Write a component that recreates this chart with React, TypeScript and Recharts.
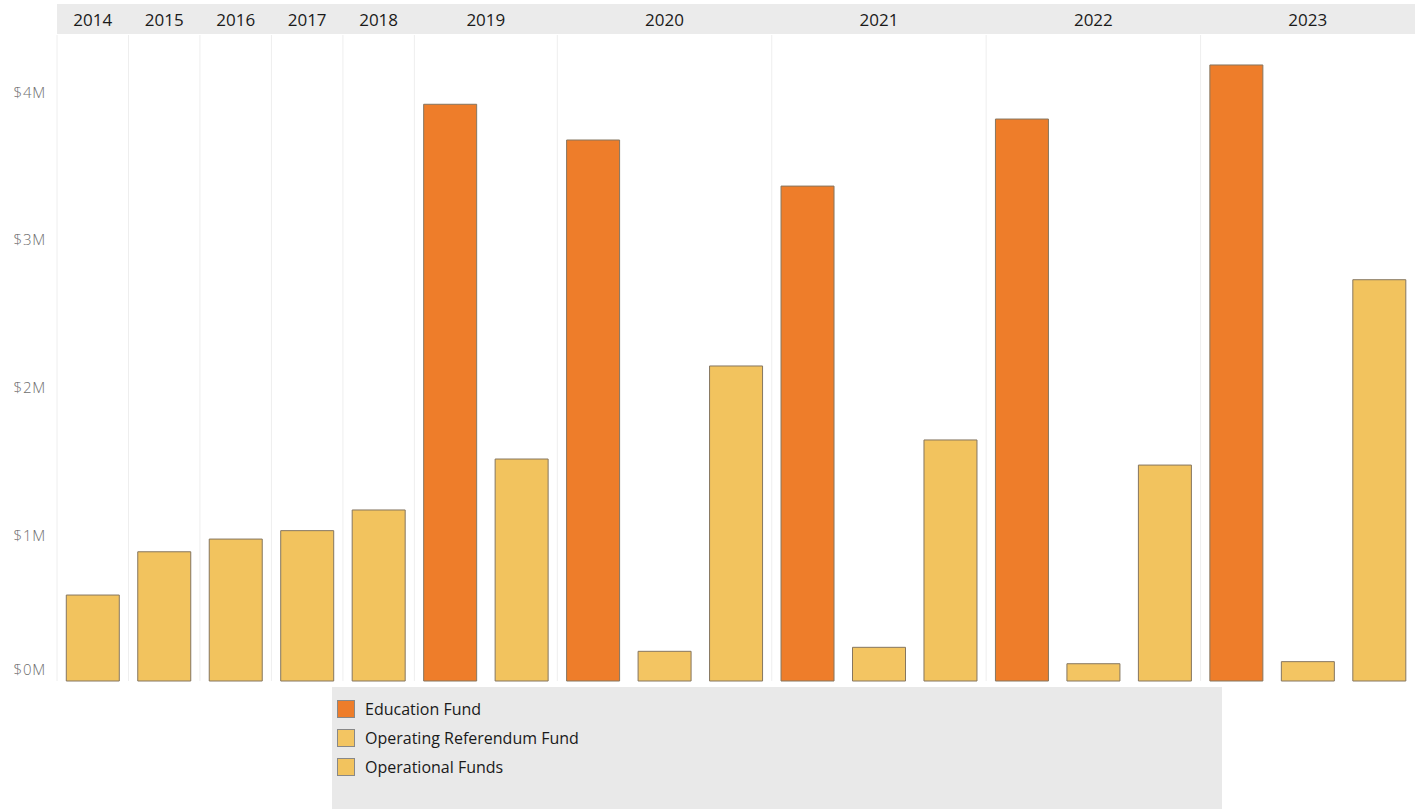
import React from 'react';
import { BarChart, Bar, XAxis, YAxis, Legend } from 'recharts';

// one entry per bar, grouped by fiscal year (values in $M)
const barYears = ['2014', '2015', '2016', '2017', '2018', '2019', '2019', '2020', '2020', '2020', '2021', '2021', '2021', '2022', '2022', '2022', '2023', '2023', '2023'];
const educationFund = [null, null, null, null, null, 3.905, null, 3.663, null, null, 3.351, null, null, 3.805, null, null, 4.171, null, null];
const operatingReferendumFund = [null, null, null, null, null, null, null, null, 0.201, null, null, 0.228, null, null, 0.117, null, null, 0.131, null];
const operationalFunds = [0.582, 0.875, 0.961, 1.018, 1.158, null, 1.503, null, null, 2.133, null, null, 1.632, null, null, 1.462, null, null, 2.717];
const yTicks = [0, 1, 2, 3, 4];

const COLORS = { edu: '#ee7d2a', referendum: '#f3c562', operational: '#f2c35e' };
const BAR_STROKE = '#857660';

const W = 1422;
const H = 810;
const MARGIN = { top: 4, right: 7, bottom: 129, left: 0 };
const Y_AXIS_W = 57;
const HEADER_H = 31;
const PLOT_BOTTOM = H - MARGIN.bottom;
const BAND = (W - MARGIN.left - MARGIN.right - Y_AXIS_W) / barYears.length;

const data = barYears.map((year, i) => ({
  cat: `${year}-${i}`,
  year,
  edu: educationFund[i],
  referendum: operatingReferendumFund[i],
  operational: operationalFunds[i],
}));

const font = '"Open Sans", "Noto Sans", sans-serif';

// top axis tick: grey header strip (drawn once), year separators and group labels
function headerTick(props: any) {
  const { x } = props;
  const index = props.index ?? props.payload?.index ?? 0;
  const bw = BAND;
  const year = barYears[index];
  const first = index === 0 || barYears[index - 1] !== year;
  const count = barYears.filter((y) => y === year).length;
  return (
    <g key={`h-${index}`}>
      {index === 0 && (
        <rect x={x - bw / 2} y={MARGIN.top} width={bw * barYears.length} height={HEADER_H - 1} fill="#ebebeb" />
      )}
      {first && (
        <line x1={x - bw / 2} x2={x - bw / 2} y1={MARGIN.top + HEADER_H} y2={PLOT_BOTTOM} stroke="#eeeeee" strokeWidth={1} />
      )}
      {first && (
        <text
          x={x + ((count - 1) * bw) / 2}
          y={MARGIN.top + HEADER_H / 2}
          dy="0.36em"
          textAnchor="middle"
          fontFamily={font}
          fontSize={17}
          fontWeight={500}
          fill="#1a1a1a"
        >
          {year}
        </text>
      )}
    </g>
  );
}

function moneyTick(props: any) {
  const { x, y, payload } = props;
  const v = payload.value;
  return (
    <text key={`y-${v}`} x={x} y={v === 0 ? y - 11 : y + 2} dy="0.36em" textAnchor="end" fontFamily={font} fontSize={15} fontWeight={300} letterSpacing={0.8} fill="#6e6e6e">
      {`$${v}M`}
    </text>
  );
}

function fundLegend(props: any) {
  const items = props.payload || [];
  return (
    <div style={{ width: '100%', height: '100%', background: '#e9e9e9', padding: '7px 0 0 5px', boxSizing: 'border-box' }}>
      {items.map((it: any) => (
        <div key={it.value} style={{ display: 'flex', alignItems: 'center', height: 29, fontFamily: font, fontSize: 16, fontWeight: 500, color: '#1a1a1a' }}>
          <span style={{ width: 16, height: 16, background: it.color, border: '1px solid #888', marginRight: 10, display: 'inline-block' }} />
          {it.value}
        </div>
      ))}
    </div>
  );
}

export default function App() {
  return (
    <div style={{ position: 'absolute', left: 0, top: 0, width: W, height: H, background: '#fff' }}>
      <BarChart width={W} height={H} data={data} margin={MARGIN} barCategoryGap="13%">
        <XAxis
          xAxisId="top"
          dataKey="cat"
          orientation="top"
          height={HEADER_H}
          interval={0}
          tickLine={false}
          axisLine={false}
          tick={headerTick}
        />
        <YAxis
          width={Y_AXIS_W}
          domain={[0, 4.374]}
          ticks={yTicks}
          tickLine={false}
          axisLine={false}
          tickSize={0}
          tickMargin={11}
          tick={moneyTick}
        />
        <Legend
          layout="vertical"
          align="center"
          verticalAlign="middle"
          width={890}
          height={122}
          wrapperStyle={{ left: 332, top: 687, width: 890, height: 122 }}
          content={fundLegend}
        />
        <Bar xAxisId="top" dataKey="edu" name="Education Fund" stackId="f" fill={COLORS.edu} stroke={BAR_STROKE} strokeWidth={1} isAnimationActive={false} />
        <Bar xAxisId="top" dataKey="referendum" name="Operating Referendum Fund" stackId="f" fill={COLORS.referendum} stroke={BAR_STROKE} strokeWidth={1} isAnimationActive={false} />
        <Bar xAxisId="top" dataKey="operational" name="Operational Funds" stackId="f" fill={COLORS.operational} stroke={BAR_STROKE} strokeWidth={1} isAnimationActive={false} />
      </BarChart>
    </div>
  );
}
